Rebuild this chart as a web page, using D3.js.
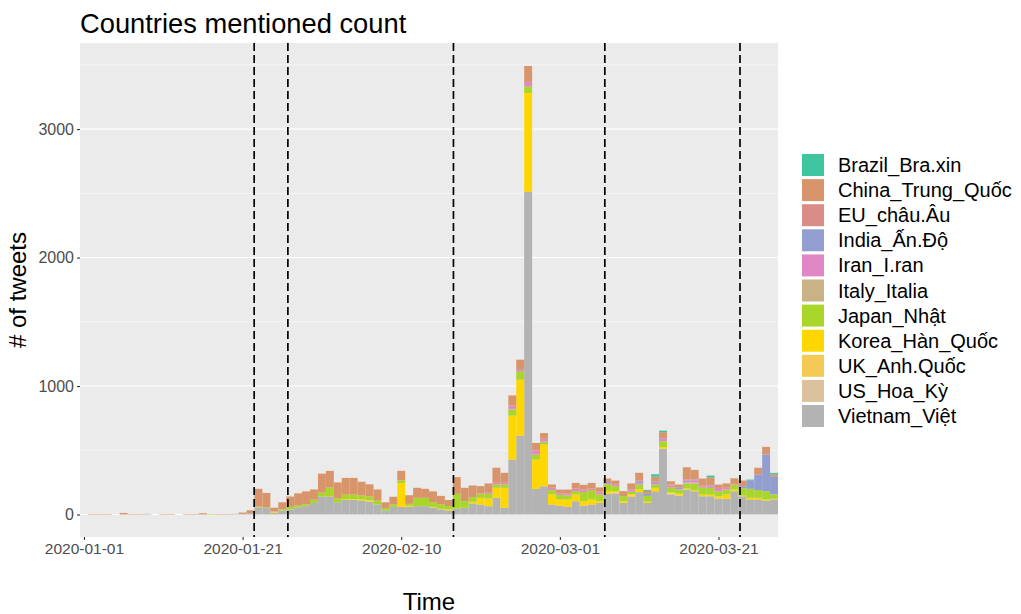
<!DOCTYPE html>
<html><head><meta charset="utf-8">
<script src="https://cdn.jsdelivr.net/npm/d3@7"></script>
<style>body{margin:0;background:#fff;} text{font-family:"Liberation Sans",Arial,sans-serif;}</style>
</head><body><svg id="c" width="1021" height="614"></svg>
<script>
// ---- data ----
const startDate = "2020-01-01", endDate = "2020-03-28";
const legendKeys = ["Brazil_Bra.xin","China_Trung_Quốc","EU_châu.Âu","India_Ấn.Độ","Iran_I.ran","Italy_Italia","Japan_Nhật","Korea_Hàn_Quốc","UK_Anh.Quốc","US_Hoa_Kỳ","Vietnam_Việt"];
const colors = ["#3FC5A0","#D8956B","#DA8C86","#939ED0","#E287C6","#C9B285","#A8D62B","#FFD700","#F5C956","#DCC29C","#B3B3B3"];
//            Jan1 ................................................................ Jan31 | Feb1 ................................................... Feb29 | Mar1 ........................................ Mar28
const brazil  = [0,0,0,0,0,0,0,0,0,0, 0,0,0,0,0,0,0,0,0,0, 0,0,0,0,0,0,0,0,0,0, 0,0,0,0,0,0,0,0,0,0, 0,0,0,0,0,0,0,0,0,0, 0,0,0,0,0,0,0,0,0,0, 0,0,0,0,0,0,0,0,0,0, 0,8,18,13,0,0,0,0,0,13, 0,0,0,0,5,0,0,13];
const china   = [0,4,4,4,0,12,4,4,0,0, 4,4,0,4,4,10,0,4,4,0, 12,25,137,113,30,55,80,95,100,80, 148,130,125,130,130,107,95,87,45,60, 75,67,78,70,85,65,47,130,104,91, 57,73,117,78,80,73,124,57,44,26, 26,31,41,36,41,34,26,31,39,47, 60,23,39,47,26,21,94,70,52,60, 26,34,44,44,0,52,60,18];
const eu      = [0,0,0,0,0,0,0,0,0,0, 0,0,0,0,0,0,0,0,0,0, 0,0,0,0,0,0,0,0,0,0, 0,0,0,0,0,0,0,0,0,0, 0,0,0,0,0,0,0,0,0,0, 0,0,0,0,0,0,0,0,0,0, 5,5,5,5,5,5,0,0,0,0, 5,0,0,0,8,0,5,5,5,5, 0,0,0,0,0,0,0,0];
const india   = [0,0,0,0,0,0,0,0,0,0, 0,0,0,0,0,0,0,0,0,0, 0,0,0,0,0,0,0,0,0,0, 0,0,0,0,0,0,0,0,0,0, 0,0,0,0,0,0,0,0,0,0, 0,0,0,0,0,0,0,0,0,0, 0,0,0,0,0,0,10,0,0,5, 13,16,10,5,0,13,5,5,0,5, 0,0,0,16,67,122,285,137];
const iran    = [0,0,0,0,0,0,0,0,0,0, 0,0,0,0,0,0,0,0,0,0, 0,0,0,0,0,0,0,0,0,0, 0,0,0,0,0,0,0,0,0,0, 0,0,0,0,0,0,0,0,0,0, 3,8,13,13,25,16,34,34,23,18, 10,10,18,16,10,16,8,13,0,13, 13,0,13,18,13,5,13,18,8,13, 26,13,5,0,0,0,0,0];
const italy   = [0,0,0,0,0,0,0,0,0,0, 0,0,0,0,0,0,0,0,0,0, 0,0,0,0,0,0,0,0,0,0, 0,0,0,0,0,0,0,0,0,0, 0,0,0,0,0,0,0,0,0,0, 0,0,0,0,6,0,0,0,0,0, 0,0,0,0,0,0,0,0,0,0, 0,0,0,0,0,0,10,8,8,0, 0,0,0,0,0,0,0,0];
const japan   = [0,0,0,0,0,0,0,0,0,0, 0,0,0,0,0,0,4,0,0,0, 0,0,8,5,0,10,20,15,15,25, 30,70,30,35,35,30,30,30,20,18, 20,15,65,65,35,35,26,114,52,36, 31,36,26,26,47,67,52,39,23,34, 36,31,26,70,73,52,52,39,39,18, 39,44,26,44,39,31,39,52,52,52, 39,39,39,57,70,60,65,34];
const korea   = [0,0,0,0,0,0,0,0,0,0, 0,0,0,0,0,0,0,0,0,0, 0,0,0,0,8,0,0,0,0,0, 0,0,0,5,5,8,10,0,0,0, 185,8,0,0,5,5,8,0,0,13, 52,60,78,156,342,435,769,228,324,78, 47,57,52,34,39,13,21,10,13,10, 21,10,26,13,10,13,8,8,13,13, 18,34,13,5,13,13,8,5];
const uk      = [0,0,0,0,0,0,0,0,0,0, 0,0,0,0,0,0,0,0,0,0, 0,0,0,0,0,0,0,0,0,0, 0,0,0,0,0,0,0,0,0,0, 0,0,0,0,0,0,0,0,0,0, 0,0,0,0,0,0,0,0,0,0, 0,0,0,0,0,0,0,0,0,12, 0,0,0,0,0,5,0,0,0,0, 0,0,0,0,0,0,0,0];
const us      = [0,0,0,0,0,0,0,0,0,0, 0,0,0,0,0,0,0,0,0,0, 0,0,0,0,0,0,0,0,0,0, 0,0,0,0,0,0,0,0,0,0, 0,0,0,0,0,0,0,0,0,0, 0,0,0,0,0,0,0,0,0,0, 0,0,0,0,0,0,0,8,0,0, 0,0,0,0,8,0,0,0,0,0, 0,0,0,0,0,0,0,0];
const vietnam = [0,0,0,0,0,0,0,0,5,0, 0,0,0,0,0,0,0,0,0,5, 3,8,55,50,15,30,40,55,65,90, 140,140,95,115,115,110,100,78,30,60, 60,60,65,65,55,40,32,47,52,86, 78,65,130,52,427,614,2512,199,220,78, 70,60,104,70,78,91,163,163,91,137, 174,91,181,513,155,145,194,181,142,142, 124,122,181,142,117,117,109,117];
const seriesValues = [brazil,china,eu,india,iran,italy,japan,korea,uk,us,vietnam];
const xTickLabels = ["2020-01-01","2020-01-21","2020-02-10","2020-03-01","2020-03-21"];
const yTicks = [0,1000,2000,3000];
const yMinor = [500,1500,2500,3500];
const eventLines = ["2020-01-22T11:00:00Z","2020-01-26T17:00:00Z","2020-02-16T14:00:00Z","2020-03-06T16:00:00Z","2020-03-23T17:00:00Z"];

// ---- build ----
const days = d3.utcDay.range(new Date(startDate+"T00:00:00Z"), d3.utcDay.offset(new Date(endDate+"T00:00:00Z"),1));
const rows = days.map((d,i)=>{const r={date:d}; legendKeys.forEach((k,j)=>r[k]=seriesValues[j][i]); return r;});
const stackKeys = legendKeys.slice().reverse();
const stacked = d3.stack().keys(stackKeys)(rows);
const color = d3.scaleOrdinal().domain(legendKeys).range(colors);

const L=80,R=778,T=43,B=537;
const svg=d3.select("#c");
const half = 12*3600*1000;
const x=d3.scaleUtc().domain([new Date(days[0].getTime()-half), new Date(days[days.length-1].getTime()+half)]).range([L,R]);
const y=d3.scaleLinear().domain([-175,3670]).range([B,T]);

svg.append("rect").attr("x",L).attr("y",T).attr("width",R-L).attr("height",B-T).attr("fill","#EBEBEB");
svg.append("g").selectAll("line").data(yMinor).join("line")
  .attr("x1",L).attr("x2",R).attr("y1",d=>y(d)).attr("y2",d=>y(d)).attr("stroke","#fff").attr("stroke-width",0.55);
svg.append("g").selectAll("line").data(yTicks).join("line")
  .attr("x1",L).attr("x2",R).attr("y1",d=>y(d)).attr("y2",d=>y(d)).attr("stroke","#fff").attr("stroke-width",1.1);

svg.append("g").selectAll("g").data(stacked).join("g").attr("fill",d=>color(d.key))
  .selectAll("rect").data(d=>d.filter(p=>p[1]-p[0]>0)).join("rect")
  .attr("x",p=>x(new Date(p.data.date.getTime()-half)))
  .attr("width",p=>x(new Date(p.data.date.getTime()+half))-x(new Date(p.data.date.getTime()-half)))
  .attr("y",p=>y(p[1])).attr("height",p=>y(p[0])-y(p[1]));

svg.append("g").selectAll("line").data(eventLines).join("line")
  .attr("x1",d=>x(new Date(d))).attr("x2",d=>x(new Date(d))).attr("y1",T).attr("y2",B)
  .attr("stroke","#000").attr("stroke-width",1.7).attr("stroke-dasharray","8,4");

// axes
const xAxis=d3.axisBottom(x).tickValues(xTickLabels.map(s=>new Date(s+"T00:00:00Z"))).tickFormat(d3.utcFormat("%Y-%m-%d")).tickSize(3).tickPadding(3);
const gx=svg.append("g").attr("transform",`translate(0,${B})`).call(xAxis);
const yAxis=d3.axisLeft(y).tickValues(yTicks).tickFormat(d3.format("d")).tickSize(3).tickPadding(3);
const gy=svg.append("g").attr("transform",`translate(${L},0)`).call(yAxis);
[gx,gy].forEach(g=>{g.select(".domain").remove(); g.selectAll(".tick line").attr("stroke","#333").attr("stroke-width",1.1);
  g.selectAll(".tick text").attr("fill","#4D4D4D").style("font-size","15.5px").style("font-family","'Liberation Sans',Arial,sans-serif");});
gy.selectAll(".tick text").style("font-size","16px");

svg.append("text").attr("x",L).attr("y",33).text("Countries mentioned count").style("font-size","27.3px").attr("fill","#000");
svg.append("text").attr("x",(L+R)/2).attr("y",610).attr("text-anchor","middle").text("Time").style("font-size","24px");
svg.append("text").attr("transform",`translate(26,${(T+B)/2}) rotate(-90)`).attr("text-anchor","middle").text("# of tweets").style("font-size","24px");

const lg=svg.append("g").selectAll("g").data(legendKeys).join("g").attr("transform",(d,i)=>`translate(802,${154+i*25.1})`);
lg.append("rect").attr("width",22).attr("height",22).attr("fill",d=>color(d));
lg.append("text").attr("x",36).attr("y",11).attr("dy","0.35em").text(d=>d).style("font-size","20px").attr("fill","#000");
</script></body></html>
